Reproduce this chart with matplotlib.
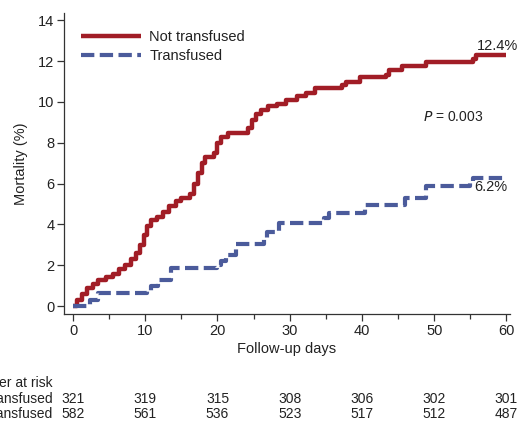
import matplotlib
matplotlib.use("Agg")
import matplotlib.pyplot as plt
import matplotlib.transforms as mtransforms
from matplotlib.ticker import MultipleLocator

plt.rcParams["font.family"] = ["Liberation Sans", "DejaVu Sans"]

# === DATA ===
# Kaplan-Meier style cumulative mortality (%), step points
not_tx_days = [0, 0.5, 1.2, 2.0, 2.8, 3.5, 4.5, 5.5, 6.3, 7.2, 8.0, 8.7, 9.3, 9.8,
               10.3, 10.8, 11.6, 12.5, 13.3, 14.2, 15.0, 16.2, 16.8, 17.3, 17.8,
               18.3, 19.5, 20.0, 20.5, 21.5, 24.2, 24.8, 25.3, 26.0, 27.0, 28.2,
               29.5, 31.0, 32.3, 33.5, 37.3, 37.8, 39.7, 43.3, 43.8, 45.5, 48.9,
               55.4, 55.8, 60.0]
not_tx_mort = [0, 0.3, 0.6, 0.9, 1.1, 1.3, 1.4, 1.55, 1.8, 2.0, 2.3, 2.6, 3.0, 3.5,
               3.9, 4.2, 4.35, 4.6, 4.9, 5.15, 5.3, 5.5, 6.0, 6.5, 7.0,
               7.3, 7.5, 8.0, 8.3, 8.5, 8.7, 9.1, 9.4, 9.6, 9.8, 9.9,
               10.1, 10.3, 10.45, 10.7, 10.85, 11.0, 11.2, 11.3, 11.55, 11.75, 11.95,
               12.1, 12.3, 12.3]

tx_days = [0, 2.4, 3.5, 10.3, 10.8, 11.8, 13.6, 20.0, 20.5, 21.2, 22.5, 26.4, 26.9,
           28.5, 34.8, 35.5, 40.4, 45.9, 48.9, 55.0, 55.4, 60.0]
tx_mort = [0, 0.3, 0.65, 0.75, 1.0, 1.3, 1.85, 2.0, 2.2, 2.5, 3.05, 3.3, 3.65,
           4.05, 4.3, 4.55, 4.95, 5.3, 5.9, 6.05, 6.25, 6.25]

risk_days = [0, 10, 20, 30, 40, 50, 60]
not_tx_risk = [321, 319, 315, 308, 306, 302, 301]
tx_risk = [582, 561, 536, 523, 517, 512, 487]

RED = "#a11d26"
BLUE = "#4b5b9b"
TEXT = "#222222"

fig = plt.figure(figsize=(5.22, 4.23), dpi=100)
ax = fig.add_axes([0.1226, 0.2577, 0.977 - 0.1226, 0.9693 - 0.2577])

ax.plot(not_tx_days, not_tx_mort, drawstyle="steps-post", color=RED, lw=3.2,
        label="Not transfused", solid_capstyle="butt")
ax.plot(tx_days, tx_mort, drawstyle="steps-post", color=BLUE, lw=3.0,
        dashes=(3.2, 1.3), label="Transfused", dash_capstyle="butt")

ax.set_xlim(-1.25, 60.5)
ax.set_ylim(-0.39, 14.36)
ax.xaxis.set_major_locator(MultipleLocator(10))
ax.xaxis.set_minor_locator(MultipleLocator(5))
ax.yaxis.set_major_locator(MultipleLocator(2))
for s in ["top", "right"]:
    ax.spines[s].set_visible(False)
for s in ["left", "bottom"]:
    ax.spines[s].set_color("#333333")
    ax.spines[s].set_linewidth(0.9)
ax.tick_params(which="major", length=5, width=0.9, color="#333333",
               labelsize=10.5, labelcolor=TEXT, pad=2)
ax.tick_params(which="minor", length=3.5, width=0.9, color="#333333")

ax.set_xlabel("Follow-up days", fontsize=10.5, color=TEXT, labelpad=3)
ax.set_ylabel("Mortality (%)", fontsize=10.5, color=TEXT, labelpad=7)

leg = ax.legend(loc="upper left", bbox_to_anchor=(0.0, 1.0), frameon=False,
                fontsize=10.5, handlelength=4.1, handletextpad=0.6,
                labelspacing=0.38, borderaxespad=0.75)
for t in leg.get_texts():
    t.set_color(TEXT)

ax.text(55.9, 12.75, "12.4%", ha="left", va="center",
        fontsize=10.5, color=TEXT, clip_on=False)
ax.text(55.5, 5.85, "6.2%", ha="left", va="center",
        fontsize=10.5, color=TEXT, clip_on=False)
ax.text(52.6, 9.25, "$\\it{P}$ = 0.003", ha="center", va="center",
        fontsize=10, color=TEXT)

# number at risk table
trans = mtransforms.blended_transform_factory(ax.transData, fig.transFigure)
fig.text(0.1015, 1 - 383 / 423, "Number at risk", ha="right", va="center",
         fontsize=10, color=TEXT)
fig.text(0.1015, 1 - 399 / 423, "Not transfused", ha="right", va="center",
         fontsize=10, color=TEXT)
fig.text(0.1015, 1 - 414 / 423, "Transfused", ha="right", va="center",
         fontsize=10, color=TEXT)
for d, n1, n2 in zip(risk_days, not_tx_risk, tx_risk):
    ax.text(d, 1 - 399 / 423, str(n1), transform=trans, ha="center",
            va="center", fontsize=10, color=TEXT, clip_on=False)
    ax.text(d, 1 - 414 / 423, str(n2), transform=trans, ha="center",
            va="center", fontsize=10, color=TEXT, clip_on=False)

fig.savefig("out.png", dpi=100, facecolor="white")
